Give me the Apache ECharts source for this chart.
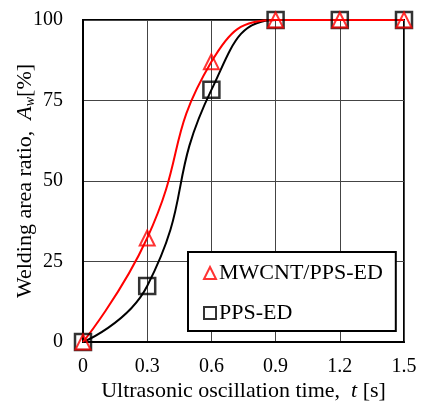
<!DOCTYPE html>
<html>
<head>
<meta charset="utf-8">
<script src="https://cdn.jsdelivr.net/npm/echarts@6/dist/echarts.min.js"></script>
<style>html,body{margin:0;padding:0;background:#fff;}#c{width:422px;height:403px;}</style>
</head>
<body>
<div id="c"></div>
<script>
var times = [0, 0.3, 0.6, 0.9, 1.2, 1.5];
var mwcnt = [0, 32.3, 87, 100, 100, 100];
var ppsed = [0, 17.4, 78.3, 100, 100, 100];
var xTicks = ['0', '0.3', '0.6', '0.9', '1.2', '1.5'];
var yTicks = [0, 25, 50, 75, 100];

var font = '"Liberation Serif", "DejaVu Serif", serif';
function pairs(xs, ys) { return xs.map(function (x, i) { return [x, ys[i]]; }); }

var chart = echarts.init(document.getElementById('c'), null, {renderer: 'canvas'});
chart.setOption({
  animation: false,
  backgroundColor: '#fff',
  grid: {left: 83, top: 20, right: 18, bottom: 61, containLabel: false, outerBoundsMode: 'none',
    show: true, borderColor: '#000', borderWidth: 2, backgroundColor: 'transparent'},
  xAxis: {
    type: 'value', min: 0, max: 1.5, interval: 0.3,
    axisLine: {show: true, lineStyle: {color: '#000', width: 2}},
    axisTick: {show: false},
    splitLine: {show: true, lineStyle: {color: '#444', width: 1}},
    axisLabel: {color: '#000', fontFamily: font, fontSize: 20, margin: 15,
      formatter: function (v) { var i = Math.round(v / 0.3); return xTicks[i] || ''; }},
    name: '{n|Ultrasonic oscillation time,  }{i|t}{n| [s]}',
    nameLocation: 'middle', nameGap: 38, nameMoveOverlap: false,
    nameTextStyle: {rich: {n: {fontFamily: font, fontSize: 22, color: '#000'}, i: {fontFamily: font, fontSize: 22, fontStyle: 'italic', color: '#000'}}}
  },
  yAxis: {
    type: 'value', min: 0, max: 100, interval: 25,
    axisLine: {show: true, lineStyle: {color: '#000', width: 2}},
    axisTick: {show: false},
    splitLine: {show: true, lineStyle: {color: '#444', width: 1}},
    axisLabel: {color: '#000', fontFamily: font, fontSize: 20, margin: 20,
      formatter: function (v) { return yTicks.indexOf(v) >= 0 ? String(v) : ''; }},
    name: '{n|Welding area ratio,  }{i|A}{s|w}{n|[%]}',
    nameLocation: 'middle', nameGap: 46, nameRotate: 90, nameMoveOverlap: false,
    nameTextStyle: {rich: {
      n: {fontFamily: font, fontSize: 22, color: '#000'},
      i: {fontFamily: font, fontSize: 22, fontStyle: 'italic', color: '#000'},
      s: {fontFamily: font, fontSize: 14, fontStyle: 'italic', color: '#000', verticalAlign: 'bottom', padding: [9, 0, 0, 0]}
    }}
  },
  legend: {
    orient: 'vertical', left: 188, top: 252,
    backgroundColor: '#fff', borderColor: '#000', borderWidth: 2,
    padding: [10, 13, 7, 15], itemGap: 18, itemWidth: 12, itemHeight: 12,
    textStyle: {fontFamily: font, fontSize: 22, color: '#000', padding: [0, 0, 0, -2]},
    data: [{name: 'MWCNT/PPS-ED', icon: 'triangle'}, {name: 'PPS-ED', icon: 'rect'}]
  },
  series: [
    {
      name: 'PPS-ED', type: 'scatter', data: pairs(times, ppsed), clip: false, z: 4,
      symbol: 'rect', symbolSize: 16,
      itemStyle: {color: 'rgba(0,0,0,0)', borderColor: '#000', borderWidth: 2.5}
    },
    {
      name: 'MWCNT/PPS-ED', type: 'scatter', data: pairs(times, mwcnt), clip: false, z: 5,
      symbol: 'triangle', symbolSize: 15,
      itemStyle: {color: 'rgba(0,0,0,0)', borderColor: '#f00', borderWidth: 2}
    },
    {
      name: 'PPS-ED', type: 'line', data: pairs(times, ppsed),
      smooth: 0.5, clip: true, z: 2, showSymbol: false, symbol: 'none',
      lineStyle: {color: '#000', width: 2}
    },
    {
      name: 'MWCNT/PPS-ED', type: 'line', data: pairs(times, mwcnt),
      smooth: 0.5, clip: true, z: 3, showSymbol: false, symbol: 'none',
      lineStyle: {color: '#f00', width: 2}
    }
  ]
});
</script>
</body>
</html>
